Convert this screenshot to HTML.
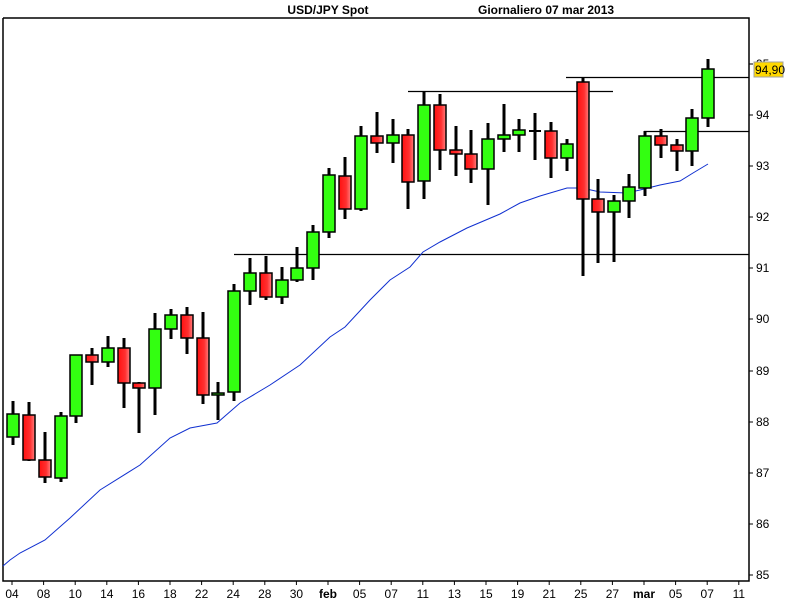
<!DOCTYPE html>
<html><head><meta charset="utf-8"><style>
body{margin:0;background:#fff;}
svg{display:block;font-family:"Liberation Sans",Arial,sans-serif;}
.g{fill:#33ff11}.r{fill:url(#rg)}
</style></head><body>
<svg width="786" height="600" viewBox="0 0 786 600" xmlns="http://www.w3.org/2000/svg">
<defs>
<linearGradient id="rg" x1="0" x2="1"><stop offset="0" stop-color="#ff1010"/><stop offset="0.6" stop-color="#ff3030"/><stop offset="1" stop-color="#ff8080"/></linearGradient>
</defs>
<rect width="786" height="600" fill="#fff"/>
<text x="328" y="14" font-size="12" font-weight="bold" text-anchor="middle">USD/JPY Spot</text>
<text x="478" y="14" font-size="12" font-weight="bold">Giornaliero  07 mar 2013</text>
<polyline points="3,18 749,18 749,581 3,581 3,18" fill="none" stroke="#000" stroke-width="1.5"/>
<g stroke="#000" stroke-width="1.2">
<line x1="234" y1="254.5" x2="749" y2="254.5"/>
<line x1="408" y1="91.5" x2="613" y2="91.5"/>
<line x1="566" y1="77.5" x2="749" y2="77.5"/>
<line x1="644" y1="131.5" x2="749" y2="131.5"/>
</g>
<polyline fill="none" stroke="#1030d0" stroke-width="1" points="3,566 10,560 20,553 45,540 70,518 100,490 140,465 170,438 190,428 217,423 240,403 270,385 300,365 330,337 345,327 370,300 390,280 410,267 423,252 440,242 467,228 500,214 520,203 540,196 567,188 582,188 600,192 627,193 640,190 660,185 680,181 693,173 708,164"/>
<g stroke="#000">
<g stroke-width="3">
<line x1="13" x2="13" y1="401" y2="445"/><line x1="29" x2="29" y1="402" y2="461"/><line x1="45" x2="45" y1="432" y2="483"/><line x1="61" x2="61" y1="412" y2="482"/><line x1="76" x2="76" y1="355" y2="423"/><line x1="92" x2="92" y1="348" y2="385"/><line x1="108" x2="108" y1="336" y2="367"/><line x1="124" x2="124" y1="338" y2="408"/><line x1="139" x2="139" y1="382" y2="433"/><line x1="155" x2="155" y1="313" y2="415"/><line x1="171" x2="171" y1="309" y2="339"/><line x1="187" x2="187" y1="307" y2="354"/><line x1="203" x2="203" y1="312" y2="404"/><line x1="218" x2="218" y1="382" y2="420"/><line x1="234" x2="234" y1="284" y2="401"/><line x1="250" x2="250" y1="258" y2="305"/><line x1="266" x2="266" y1="256" y2="300"/><line x1="282" x2="282" y1="267" y2="304"/><line x1="297" x2="297" y1="247" y2="282"/><line x1="313" x2="313" y1="225" y2="280"/><line x1="329" x2="329" y1="168" y2="238"/><line x1="345" x2="345" y1="157" y2="219"/><line x1="361" x2="361" y1="126" y2="211"/><line x1="377" x2="377" y1="112" y2="153"/><line x1="393" x2="393" y1="119" y2="163"/><line x1="408" x2="408" y1="129" y2="209"/><line x1="424" x2="424" y1="91" y2="199"/><line x1="440" x2="440" y1="94" y2="170"/><line x1="456" x2="456" y1="126" y2="176"/><line x1="471" x2="471" y1="130" y2="183"/><line x1="488" x2="488" y1="123" y2="205"/><line x1="504" x2="504" y1="104" y2="152"/><line x1="519" x2="519" y1="119" y2="152"/><line x1="535" x2="535" y1="113" y2="160"/><line x1="551" x2="551" y1="122" y2="178"/><line x1="567" x2="567" y1="139" y2="171"/><line x1="583" x2="583" y1="77" y2="276"/><line x1="598" x2="598" y1="179" y2="263"/><line x1="614" x2="614" y1="195" y2="262"/><line x1="629" x2="629" y1="174" y2="218"/><line x1="645" x2="645" y1="131" y2="196"/><line x1="661" x2="661" y1="129" y2="158"/><line x1="677" x2="677" y1="139" y2="171"/><line x1="692" x2="692" y1="109" y2="166"/><line x1="708" x2="708" y1="59" y2="127"/>
<line x1="529" x2="541" y1="131" y2="131" stroke-width="2"/>
</g>
<g stroke-width="1.5">
<rect class="g" x="7" y="414" width="12" height="23"/><rect class="r" x="23" y="415" width="12" height="45"/><rect class="r" x="39" y="460" width="12" height="17"/><rect class="g" x="55" y="416" width="12" height="62"/><rect class="g" x="70" y="355" width="12" height="61"/><rect class="r" x="86" y="355" width="12" height="7"/><rect class="g" x="102" y="348" width="12" height="14"/><rect class="r" x="118" y="348" width="12" height="35"/><rect class="r" x="133" y="383" width="12" height="5"/><rect class="g" x="149" y="329" width="12" height="59"/><rect class="g" x="165" y="315" width="12" height="14"/><rect class="r" x="181" y="315" width="12" height="23"/><rect class="r" x="197" y="338" width="12" height="57"/><rect class="g" x="212" y="393" width="12" height="2"/><rect class="g" x="228" y="291" width="12" height="101"/><rect class="g" x="244" y="273" width="12" height="18"/><rect class="r" x="260" y="273" width="12" height="24"/><rect class="g" x="276" y="280" width="12" height="17"/><rect class="g" x="291" y="268" width="12" height="12"/><rect class="g" x="307" y="232" width="12" height="36"/><rect class="g" x="323" y="175" width="12" height="57"/><rect class="r" x="339" y="176" width="12" height="33"/><rect class="g" x="355" y="136" width="12" height="73"/><rect class="r" x="371" y="136" width="12" height="7"/><rect class="g" x="387" y="135" width="12" height="8"/><rect class="r" x="402" y="135" width="12" height="47"/><rect class="g" x="418" y="105" width="12" height="76"/><rect class="r" x="434" y="105" width="12" height="45"/><rect class="r" x="450" y="150" width="12" height="4"/><rect class="r" x="465" y="154" width="12" height="15"/><rect class="g" x="482" y="139" width="12" height="30"/><rect class="g" x="498" y="135" width="12" height="4"/><rect class="g" x="513" y="130" width="12" height="5"/><rect class="r" x="545" y="131" width="12" height="27"/><rect class="g" x="561" y="144" width="12" height="14"/><rect class="r" x="577" y="82" width="12" height="117"/><rect class="r" x="592" y="199" width="12" height="13"/><rect class="g" x="608" y="201" width="12" height="11"/><rect class="g" x="623" y="187" width="12" height="14"/><rect class="g" x="639" y="136" width="12" height="52"/><rect class="r" x="655" y="136" width="12" height="9"/><rect class="r" x="671" y="145" width="12" height="6"/><rect class="g" x="686" y="118" width="12" height="33"/><rect class="g" x="702" y="69" width="12" height="49"/>
</g>
</g>
<g font-size="12" fill="#000">
<g stroke="#000" stroke-width="1">
<line x1="749" y1="575" x2="753" y2="575"/><line x1="749" y1="524" x2="753" y2="524"/><line x1="749" y1="473" x2="753" y2="473"/><line x1="749" y1="422" x2="753" y2="422"/><line x1="749" y1="371" x2="753" y2="371"/><line x1="749" y1="319" x2="753" y2="319"/><line x1="749" y1="268" x2="753" y2="268"/><line x1="749" y1="217" x2="753" y2="217"/><line x1="749" y1="166" x2="753" y2="166"/><line x1="749" y1="115" x2="753" y2="115"/><line x1="749" y1="64" x2="753" y2="64"/>
</g>
<text x="756" y="579">85</text><text x="756" y="528">86</text><text x="756" y="477">87</text><text x="756" y="426">88</text><text x="756" y="375">89</text><text x="756" y="323">90</text><text x="756" y="272">91</text><text x="756" y="221">92</text><text x="756" y="170">93</text><text x="756" y="119">94</text><text x="756" y="68">95</text>
<rect x="754" y="62" width="29" height="15" fill="#ffd800" stroke="#a0a0a0"/>
<text x="755" y="74">94,90</text>
</g>
<g stroke="#000" stroke-width="1">
<line x1="12" x2="12" y1="581" y2="585"/><line x1="43.6" x2="43.6" y1="581" y2="585"/><line x1="75.2" x2="75.2" y1="581" y2="585"/><line x1="106.8" x2="106.8" y1="581" y2="585"/><line x1="138.4" x2="138.4" y1="581" y2="585"/><line x1="170" x2="170" y1="581" y2="585"/><line x1="201.6" x2="201.6" y1="581" y2="585"/><line x1="233.2" x2="233.2" y1="581" y2="585"/><line x1="264.8" x2="264.8" y1="581" y2="585"/><line x1="296.4" x2="296.4" y1="581" y2="585"/><line x1="328" x2="328" y1="581" y2="585"/><line x1="359.6" x2="359.6" y1="581" y2="585"/><line x1="391.2" x2="391.2" y1="581" y2="585"/><line x1="422.8" x2="422.8" y1="581" y2="585"/><line x1="454.4" x2="454.4" y1="581" y2="585"/><line x1="486" x2="486" y1="581" y2="585"/><line x1="517.6" x2="517.6" y1="581" y2="585"/><line x1="549.2" x2="549.2" y1="581" y2="585"/><line x1="580.8" x2="580.8" y1="581" y2="585"/><line x1="612.4" x2="612.4" y1="581" y2="585"/><line x1="644" x2="644" y1="581" y2="585"/><line x1="675.6" x2="675.6" y1="581" y2="585"/><line x1="707.2" x2="707.2" y1="581" y2="585"/><line x1="738.8" x2="738.8" y1="581" y2="585"/>
</g>
<g font-size="12" text-anchor="middle">
<text x="12" y="598">04</text><text x="43.6" y="598">08</text><text x="75.2" y="598">10</text><text x="106.8" y="598">14</text><text x="138.4" y="598">16</text><text x="170" y="598">18</text><text x="201.6" y="598">22</text><text x="233.2" y="598">24</text><text x="264.8" y="598">28</text><text x="296.4" y="598">30</text><text x="328" y="598" font-weight="bold">feb</text><text x="359.6" y="598">05</text><text x="391.2" y="598">07</text><text x="422.8" y="598">11</text><text x="454.4" y="598">13</text><text x="486" y="598">15</text><text x="517.6" y="598">19</text><text x="549.2" y="598">21</text><text x="580.8" y="598">25</text><text x="612.4" y="598">27</text><text x="644" y="598" font-weight="bold">mar</text><text x="675.6" y="598">05</text><text x="707.2" y="598">07</text><text x="738.8" y="598">11</text>
</g>
</svg>
</body></html>
